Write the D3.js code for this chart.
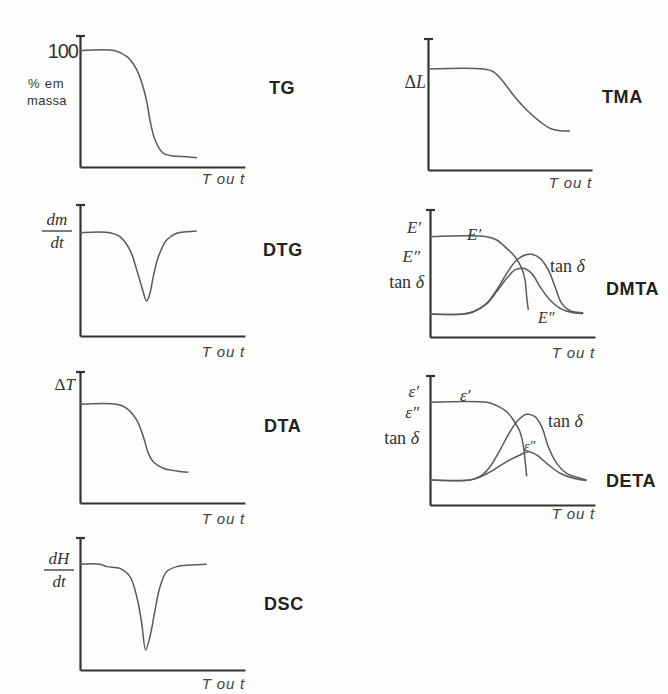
<!DOCTYPE html>
<html>
<head>
<meta charset="utf-8">
<script src="https://cdn.jsdelivr.net/npm/d3@7"></script>
<style>
  html, body { margin: 0; padding: 0; background: #fdfdfb; }
  svg { display: block; }
  .ax { stroke: #333; stroke-width: 2.2; fill: none; }
  .cv { stroke: #5a5a5a; stroke-width: 1.5; fill: none; }
  .name { font-family: "Liberation Sans", Arial, sans-serif; font-weight: bold; font-size: 18px; letter-spacing: 0.6px; fill: #222; }
  .xl { font-family: "Liberation Sans", Arial, sans-serif; font-style: italic; font-size: 15px; letter-spacing: 0.8px; fill: #444; }
  .math { font-family: "Liberation Serif", "Times New Roman", serif; font-size: 17px; fill: #333; }
  .sans { font-family: "Liberation Sans", Arial, sans-serif; fill: #333; }
</style>
</head>
<body>
<svg id="chart" width="668" height="694"></svg>
<script>
// ---------------- data (axis units 0..100) ----------------
const panelNames = ["TG", "DTG", "DTA", "DSC", "TMA", "DMTA", "DETA"];
const xAxisLabel = "T ou t";

const tgCurve = [[0,88.8],[21.2,88.8],[28.5,84.2],[34.5,74],[38.2,61.3],[40.6,48.9],[42.4,35.9],[45.5,20.6],[50.3,10.7],[56.4,8.4],[64.8,7.9],[70.9,7.1]];
const dtgCurve = [[0,78.9],[18.2,78.9],[24.2,75.8],[30.3,65.6],[34.4,50.4],[37.4,37.6],[40.4,26.7],[42.4,32.6],[44.4,45.3],[47.5,60.5],[52.5,73.3],[58.6,78.4],[64.7,79.6],[70.7,80.2]];
const dtaCurve = [[0,75.3],[22.2,75.3],[28.3,72.3],[34.3,63.4],[38.4,50.6],[41.4,37.9],[44.4,31.5],[50.5,26.5],[58.6,24.4],[65.6,23.4]];
const dscCurve = [[0,80.1],[12.1,80.1],[16.2,78.3],[24.2,77],[30.3,70.7],[34.4,55.5],[37.4,35.4],[39.8,15.2],[42.4,25.2],[45.5,45.5],[48.5,63.1],[52.5,74.5],[58.6,78.3],[66.7,79.5],[76.8,80.1]];
const tmaCurve = [[0,77.1],[33.7,77.1],[39.8,75],[45.9,67.4],[52,57.3],[60.2,45.8],[68.3,36.9],[74.4,31.8],[80.5,30],[86.6,29.8]];

const dmtaStorage = [[0,79],[34.4,79],[40.4,76.4],[46.5,69.8],[51.5,63.2],[55.6,54.1],[57.6,44.9],[58.6,31.7],[59.6,21.3]];
const dmtaTanDelta = [[0,18.1],[20.2,18.1],[26.3,19.9],[34.3,26.5],[40.4,37],[46.5,50.1],[52.5,60.6],[57.6,64.6],[61.6,65.1],[66.7,61.9],[71.7,52.8],[75.8,39.6],[79.8,26.5],[84.8,20.7],[92.9,19.1]];
const dmtaLoss = [[0,18.1],[20.2,18.1],[26.3,19.9],[34.3,26],[40.4,35.7],[46.5,46.2],[51.5,52.8],[56.5,54.1],[61.6,50.1],[66.7,39.6],[72.7,29.1],[78.8,22.6],[86.9,19.1],[92.9,18.6]];

const detaStorage = [[0,79.6],[34.4,79.6],[40.4,77],[46.5,72.3],[50.5,65.9],[54.5,56.8],[56.5,46.5],[57.6,34.9],[58.6,22.2]];
const detaTanDelta = [[0,19.4],[24.2,19.4],[30.3,22.1],[36.4,29.7],[42.4,42.6],[48.5,56.8],[53.5,65.9],[58.6,70.3],[63.6,68.5],[67.7,60.7],[71.7,45.2],[76.8,32.3],[82.8,24.6],[90.9,20.7],[94.9,19.4]];
const detaLoss = [[0,19.4],[24.2,19.4],[30.3,21.6],[38.4,27.1],[46.5,33.6],[54.5,38.8],[59.6,41.3],[64.6,38.8],[70.7,32.3],[78.8,24.6],[86.9,20.7],[94.9,18.9]];

// ---------------- layout ----------------
const svg = d3.select("#chart");
const frames = {
  TG:   {x0: 80,  x1: 245, yb: 167, yt: 36,  xlOff: 17, curves: [tgCurve]},
  DTG:  {x0: 80,  x1: 245, yb: 336, yt: 205, xlOff: 21, curves: [dtgCurve]},
  DTA:  {x0: 80,  x1: 245, yb: 503, yt: 372, xlOff: 21, curves: [dtaCurve]},
  DSC:  {x0: 80,  x1: 245, yb: 670, yt: 538, xlOff: 19, curves: [dscCurve]},
  TMA:  {x0: 428, x1: 592, yb: 170, yt: 39,  xlOff: 18, curves: [tmaCurve]},
  DMTA: {x0: 430, x1: 595, yb: 337, yt: 210, xlOff: 21, curves: [dmtaStorage, dmtaTanDelta, dmtaLoss]},
  DETA: {x0: 430, x1: 595, yb: 505, yt: 376, xlOff: 14, curves: [detaStorage, detaTanDelta, detaLoss]}
};
const namePos = {
  TG: [269, 94], DTG: [263, 256], DTA: [264, 432], DSC: [264, 610],
  TMA: [602, 103], DMTA: [606, 295], DETA: [606, 487]
};

const scales = {};
panelNames.forEach(name => {
  const f = frames[name];
  const x = d3.scaleLinear().domain([0, 100]).range([f.x0, f.x1]);
  const y = d3.scaleLinear().domain([0, 100]).range([f.yb, f.yt]);
  scales[name] = {x, y};
  const g = svg.append("g");
  // axes (domain lines only, no ticks)
  g.append("g").attr("transform", `translate(${f.x0},0)`)
    .call(d3.axisLeft(y).tickValues([]).tickSizeOuter(0))
    .call(s => s.select(".domain").attr("class", "ax"));
  g.append("line").attr("class", "ax")
    .attr("x1", f.x0 - 4).attr("x2", f.x0 + 5)
    .attr("y1", y(100)).attr("y2", y(100));
  g.append("g").attr("transform", `translate(0,${f.yb})`)
    .call(d3.axisBottom(x).tickValues([]).tickSizeOuter(0))
    .call(s => s.select(".domain").attr("class", "ax"));
  // curves
  const line = d3.line().x(d => x(d[0])).y(d => y(d[1])).curve(d3.curveCatmullRom.alpha(0.5));
  f.curves.forEach(c => g.append("path").attr("class", "cv").attr("d", line(c)));
  // x label
  g.append("text").attr("class", "xl").attr("x", f.x1).attr("y", f.yb + f.xlOff)
    .attr("text-anchor", "end").attr("xml:space", "preserve").text(xAxisLabel);
  // panel name
  g.append("text").attr("class", "name").attr("x", namePos[name][0]).attr("y", namePos[name][1]).text(name);
});

// ---------------- y labels ----------------
function mathText(x, y, parts, anchor, size) {
  const t = svg.append("text").attr("class", "math").attr("x", x).attr("y", y)
    .attr("text-anchor", anchor || "start");
  if (size) t.style("font-size", size + "px");
  parts.forEach(p => t.append("tspan").style("font-style", p[1] ? "italic" : "normal").text(p[0]));
  return t;
}
function fraction(cx, yl, num, den) {
  mathText(cx, yl - 6, [[num, true]], "middle", 17);
  mathText(cx, yl + 17, [[den, true]], "middle", 17);
  svg.append("line").attr("x1", cx - 15).attr("x2", cx + 15).attr("y1", yl).attr("y2", yl)
    .attr("stroke", "#444").attr("stroke-width", 1.4);
}
// TG
svg.append("text").attr("class", "sans").attr("x", 78).attr("y", 58).attr("text-anchor", "end")
  .style("font-size", "20px").style("letter-spacing", "-1px").text("100");
svg.append("text").attr("class", "sans").attr("x", 28).attr("y", 88).style("font-size", "13px").style("letter-spacing", "0.8px").text("% em");
svg.append("text").attr("class", "sans").attr("x", 27).attr("y", 105).style("font-size", "13px").style("letter-spacing", "0.3px").text("massa");
// DTG
fraction(57, 231, "dm", "dt");
// DTA
mathText(75, 390, [["Δ", false], ["T", true]], "end", 17);
// DSC
fraction(59, 570, "dH", "dt");
// TMA
mathText(426, 88, [["Δ", false], ["L", true]], "end", 18);
// DMTA
mathText(421, 233, [["E′", true]], "end", 17);
mathText(420, 262, [["E″", true]], "end", 17);
mathText(424, 288, [["tan ", false], ["δ", true]], "end", 18);
mathText(467, 240, [["E′", true]], "start", 17);
mathText(550, 272, [["tan ", false], ["δ", true]], "start", 18);
mathText(538, 323, [["E″", true]], "start", 16);
// DETA
mathText(419, 397, [["ε′", true]], "end", 17);
mathText(419, 418, [["ε″", true]], "end", 17);
mathText(419, 444, [["tan ", false], ["δ", true]], "end", 18);
mathText(460, 401, [["ε′", true]], "start", 17);
mathText(548, 427, [["tan ", false], ["δ", true]], "start", 18);
mathText(524, 451, [["ε″", true]], "start", 14);
</script>
</body>
</html>
